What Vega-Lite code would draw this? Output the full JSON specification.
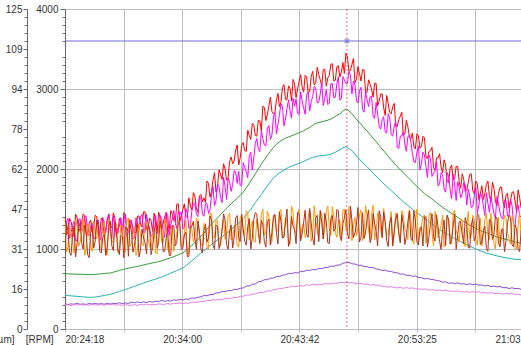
{
  "$schema": "https://vega.github.io/schema/vega-lite/v6.json",
  "width": 469,
  "height": 320,
  "autosize": "none",
  "padding": {"left": 65, "top": 9, "right": 0, "bottom": 16},
  "background": "white",
  "config": {
    "view": {"stroke": null},
    "font": "Liberation Sans",
    "axis": {"labelFont": "Liberation Sans", "labelFontSize": 10, "labelColor": "#333333", "titleFont": "Liberation Sans", "titleFontSize": 10, "titleFontWeight": "normal", "titleColor": "#333333", "domainColor": "#666666", "tickColor": "#666666"}
  },
  "layer": [
    {
      "data": {"values": [
{"t":0,"r":1420,"m":1140,"o":1330,"b":970,"g":690,"c":420,"p":316,"k":295},
{"t":15,"r":1211,"m":1381,"o":1030,"b":1220,"g":689,"c":417,"p":306,"k":303},
{"t":30,"r":1343,"m":1203,"o":1200,"b":920,"g":688,"c":414,"p":314,"k":293},
{"t":45,"r":1154,"m":1344,"o":950,"b":1290,"g":686,"c":411,"p":310,"k":307},
{"t":60,"r":1395,"m":1105,"o":1290,"b":1070,"g":685,"c":408,"p":320,"k":299},
{"t":75,"r":1257,"m":1377,"o":1090,"b":1330,"g":684,"c":405,"p":308,"k":310},
{"t":90,"r":1438,"m":1238,"o":1370,"b":1000,"g":683,"c":402,"p":314,"k":298},
{"t":105,"r":1189,"m":1409,"o":1000,"b":1200,"g":682,"c":399,"p":306,"k":303},
{"t":120,"r":1320,"m":1170,"o":1240,"b":890,"g":680,"c":396,"p":319,"k":297},
{"t":135,"r":1212,"m":1322,"o":970,"b":1260,"g":681,"c":396,"p":312,"k":308},
{"t":150,"r":1423,"m":1133,"o":1180,"b":1100,"g":683,"c":400,"p":320,"k":301},
{"t":165,"r":1244,"m":1364,"o":1310,"b":1310,"g":686,"c":405,"p":311,"k":300},
{"t":180,"r":1386,"m":1106,"o":1050,"b":950,"g":690,"c":412,"p":318,"k":308},
{"t":195,"r":1167,"m":1307,"o":1350,"b":1180,"g":694,"c":420,"p":309,"k":297},
{"t":210,"r":1358,"m":1378,"o":930,"b":1030,"g":697,"c":426,"p":321,"k":310},
{"t":225,"r":1280,"m":1200,"o":1220,"b":1350,"g":700,"c":432,"p":312,"k":301},
{"t":240,"r":1451,"m":1411,"o":1110,"b":980,"g":710,"c":444,"p":321,"k":311},
{"t":255,"r":1212,"m":1152,"o":1320,"b":1230,"g":721,"c":457,"p":317,"k":298},
{"t":270,"r":1383,"m":1283,"o":1010,"b":930,"g":732,"c":470,"p":328,"k":303},
{"t":285,"r":1185,"m":1175,"o":1260,"b":1160,"g":743,"c":482,"p":317,"k":295},
{"t":300,"r":1426,"m":1436,"o":960,"b":1280,"g":752,"c":494,"p":326,"k":305},
{"t":315,"r":1267,"m":1217,"o":1390,"b":910,"g":760,"c":507,"p":319,"k":298},
{"t":330,"r":1349,"m":1359,"o":1070,"b":1210,"g":767,"c":520,"p":334,"k":296},
{"t":345,"r":1200,"m":1140,"o":1280,"b":1050,"g":775,"c":533,"p":328,"k":305},
{"t":360,"r":1411,"m":1311,"o":990,"b":1320,"g":782,"c":546,"p":338,"k":295},
{"t":375,"r":1313,"m":1403,"o":1170,"b":990,"g":790,"c":560,"p":330,"k":309},
{"t":390,"r":1464,"m":1204,"o":1040,"b":1140,"g":801,"c":576,"p":339,"k":301},
{"t":405,"r":1245,"m":1435,"o":1330,"b":940,"g":809,"c":588,"p":331,"k":312},
{"t":420,"r":1386,"m":1246,"o":1030,"b":1270,"g":818,"c":600,"p":344,"k":301},
{"t":435,"r":1218,"m":1178,"o":1200,"b":1020,"g":826,"c":612,"p":336,"k":307},
{"t":450,"r":1369,"m":1419,"o":950,"b":1340,"g":834,"c":624,"p":347,"k":302},
{"t":465,"r":1460,"m":1240,"o":1290,"b":1080,"g":842,"c":636,"p":344,"k":315},
{"t":480,"r":1260,"m":1380,"o":1090,"b":1240,"g":852,"c":650,"p":357,"k":309},
{"t":495,"r":1400,"m":1145,"o":1370,"b":970,"g":865,"c":666,"p":347,"k":308},
{"t":510,"r":1220,"m":1420,"o":1000,"b":1220,"g":878,"c":682,"p":355,"k":318},
{"t":525,"r":1480,"m":1295,"o":1240,"b":920,"g":891,"c":698,"p":349,"k":309},
{"t":540,"r":1360,"m":1480,"o":970,"b":1290,"g":905,"c":714,"p":364,"k":323},
{"t":555,"r":1560,"m":1255,"o":1180,"b":1070,"g":920,"c":730,"p":360,"k":316},
{"t":570,"r":1340,"m":1430,"o":1310,"b":1330,"g":935,"c":745,"p":370,"k":327},
{"t":585,"r":1490,"m":1250,"o":1055,"b":1005,"g":950,"c":760,"p":362,"k":316},
{"t":600,"r":1410,"m":1505,"o":1360,"b":1210,"g":980,"c":790,"p":375,"k":325},
{"t":615,"r":1640,"m":1260,"o":948,"b":908,"g":1010,"c":822,"p":371,"k":322},
{"t":630,"r":1490,"m":1480,"o":1245,"b":1285,"g":1045,"c":854,"p":388,"k":337},
{"t":645,"r":1660,"m":1575,"o":1142,"b":1132,"g":1080,"c":886,"p":384,"k":333},
{"t":660,"r":1460,"m":1405,"o":1360,"b":1350,"g":1120,"c":918,"p":398,"k":335},
{"t":675,"r":1680,"m":1640,"o":1060,"b":1000,"g":1160,"c":950,"p":400,"k":347},
{"t":690,"r":1640,"m":1410,"o":1314,"b":1234,"g":1195,"c":980,"p":419,"k":341},
{"t":705,"r":1850,"m":1570,"o":1018,"b":1088,"g":1250,"c":1010,"p":415,"k":358},
{"t":720,"r":1650,"m":1490,"o":1452,"b":1412,"g":1290,"c":1040,"p":430,"k":354},
{"t":735,"r":1860,"m":1780,"o":1136,"b":1046,"g":1330,"c":1070,"p":430,"k":368},
{"t":750,"r":1710,"m":1605,"o":1350,"b":1300,"g":1370,"c":1100,"p":451,"k":361},
{"t":765,"r":1990,"m":1780,"o":1064,"b":1004,"g":1410,"c":1128,"p":453,"k":370},
{"t":780,"r":1870,"m":1580,"o":1248,"b":1238,"g":1450,"c":1155,"p":469,"k":367},
{"t":795,"r":2000,"m":1780,"o":1122,"b":1362,"g":1490,"c":1182,"p":466,"k":383},
{"t":810,"r":1890,"m":1890,"o":1416,"b":996,"g":1530,"c":1210,"p":481,"k":381},
{"t":825,"r":2150,"m":1720,"o":1120,"b":1300,"g":1565,"c":1245,"p":478,"k":384},
{"t":840,"r":2100,"m":1980,"o":1294,"b":1144,"g":1600,"c":1278,"p":496,"k":397},
{"t":855,"r":2300,"m":1820,"o":1048,"b":1418,"g":1635,"c":1311,"p":494,"k":392},
{"t":870,"r":2140,"m":1790,"o":1392,"b":1092,"g":1670,"c":1344,"p":509,"k":410},
{"t":885,"r":2330,"m":2080,"o":1196,"b":1246,"g":1710,"c":1380,"p":513,"k":408},
{"t":900,"r":2220,"m":1965,"o":1478,"b":1048,"g":1765,"c":1425,"p":537,"k":426},
{"t":915,"r":2420,"m":2160,"o":1110,"b":1380,"g":1820,"c":1470,"p":538,"k":422},
{"t":930,"r":2570,"m":1985,"o":1352,"b":1132,"g":1880,"c":1525,"p":558,"k":436},
{"t":945,"r":2420,"m":2320,"o":1085,"b":1455,"g":1940,"c":1580,"p":563,"k":437},
{"t":960,"r":2610,"m":2245,"o":1297,"b":1197,"g":2000,"c":1630,"p":590,"k":456},
{"t":975,"r":2480,"m":2480,"o":1430,"b":1360,"g":2060,"c":1680,"p":596,"k":456},
{"t":990,"r":2770,"m":2300,"o":1172,"b":1092,"g":2115,"c":1735,"p":616,"k":462},
{"t":1005,"r":2680,"m":2510,"o":1474,"b":1344,"g":2170,"c":1790,"p":617,"k":478},
{"t":1020,"r":2900,"m":2370,"o":1057,"b":1047,"g":2220,"c":1840,"p":635,"k":475},
{"t":1035,"r":2690,"m":2650,"o":1349,"b":1419,"g":2270,"c":1890,"p":636,"k":495},
{"t":1050,"r":2860,"m":2440,"o":1241,"b":1201,"g":2310,"c":1920,"p":657,"k":494},
{"t":1065,"r":2780,"m":2680,"o":1454,"b":1464,"g":2340,"c":1950,"p":656,"k":511},
{"t":1080,"r":3020,"m":2775,"o":1146,"b":1136,"g":2365,"c":1975,"p":673,"k":506},
{"t":1095,"r":2870,"m":2625,"o":1398,"b":1338,"g":2385,"c":2000,"p":677,"k":518},
{"t":1110,"r":3040,"m":2865,"o":1101,"b":1031,"g":2400,"c":2020,"p":696,"k":518},
{"t":1125,"r":2850,"m":2635,"o":1533,"b":1403,"g":2415,"c":2035,"p":692,"k":536},
{"t":1140,"r":3060,"m":2785,"o":1215,"b":1245,"g":2430,"c":2050,"p":704,"k":531},
{"t":1155,"r":3000,"m":2695,"o":1428,"b":1458,"g":2445,"c":2065,"p":701,"k":532},
{"t":1170,"r":3180,"m":2965,"o":1140,"b":1100,"g":2460,"c":2080,"p":720,"k":543},
{"t":1185,"r":2960,"m":2765,"o":1322,"b":1332,"g":2478,"c":2095,"p":719,"k":536},
{"t":1200,"r":3150,"m":2925,"o":1194,"b":1184,"g":2500,"c":2115,"p":735,"k":552},
{"t":1215,"r":2970,"m":2725,"o":1486,"b":1506,"g":2520,"c":2130,"p":731,"k":547},
{"t":1230,"r":3220,"m":2905,"o":1188,"b":1138,"g":2545,"c":2145,"p":744,"k":560},
{"t":1245,"r":3080,"m":3015,"o":1360,"b":1390,"g":2570,"c":2155,"p":740,"k":551},
{"t":1260,"r":3180,"m":2835,"o":1112,"b":1092,"g":2580,"c":2162,"p":758,"k":559},
{"t":1275,"r":3040,"m":3075,"o":1454,"b":1324,"g":2590,"c":2168,"p":754,"k":555},
{"t":1290,"r":3250,"m":2885,"o":1256,"b":1446,"g":2600,"c":2172,"p":768,"k":568},
{"t":1305,"r":3140,"m":2805,"o":1538,"b":1078,"g":2610,"c":2176,"p":770,"k":563},
{"t":1320,"r":3310,"m":3065,"o":1170,"b":1380,"g":2625,"c":2185,"p":787,"k":564},
{"t":1335,"r":3100,"m":2890,"o":1412,"b":1222,"g":2645,"c":2200,"p":783,"k":575},
{"t":1350,"r":3280,"m":3065,"o":1144,"b":1494,"g":2670,"c":2220,"p":798,"k":568},
{"t":1365,"r":3150,"m":2860,"o":1356,"b":1166,"g":2690,"c":2240,"p":800,"k":583},
{"t":1380,"r":3330,"m":3155,"o":1488,"b":1318,"g":2725,"c":2265,"p":824,"k":578},
{"t":1395,"r":3450,"m":3070,"o":1230,"b":1490,"g":2750,"c":2280,"p":828,"k":584},
{"t":1410,"r":3220,"m":3220,"o":1527,"b":1127,"g":2730,"c":2255,"p":833,"k":574},
{"t":1425,"r":3310,"m":2940,"o":1104,"b":1354,"g":2690,"c":2230,"p":814,"k":582},
{"t":1440,"r":3080,"m":3050,"o":1392,"b":1202,"g":2645,"c":2185,"p":813,"k":571},
{"t":1455,"r":3280,"m":2825,"o":1279,"b":1519,"g":2600,"c":2145,"p":795,"k":566},
{"t":1470,"r":3100,"m":3020,"o":1486,"b":1146,"g":2560,"c":2100,"p":798,"k":572},
{"t":1485,"r":3240,"m":2710,"o":1173,"b":1133,"g":2515,"c":2065,"p":780,"k":559},
{"t":1500,"r":2960,"m":2870,"o":1420,"b":1380,"g":2475,"c":2030,"p":780,"k":562},
{"t":1515,"r":3060,"m":2900,"o":1118,"b":1078,"g":2430,"c":1990,"p":767,"k":548},
{"t":1530,"r":2900,"m":2665,"o":1545,"b":1445,"g":2385,"c":1950,"p":769,"k":556},
{"t":1545,"r":3070,"m":2830,"o":1222,"b":1222,"g":2340,"c":1910,"p":749,"k":544},
{"t":1560,"r":2850,"m":2530,"o":1429,"b":1479,"g":2295,"c":1875,"p":747,"k":549},
{"t":1575,"r":2940,"m":2617,"o":1136,"b":1146,"g":2250,"c":1835,"p":731,"k":533},
{"t":1590,"r":2670,"m":2464,"o":1314,"b":1344,"g":2205,"c":1800,"p":736,"k":533},
{"t":1605,"r":2820,"m":2691,"o":1181,"b":1031,"g":2160,"c":1765,"p":721,"k":522},
{"t":1620,"r":2690,"m":2428,"o":1468,"b":1398,"g":2115,"c":1730,"p":721,"k":529},
{"t":1635,"r":2820,"m":2535,"o":1165,"b":1235,"g":2070,"c":1695,"p":704,"k":519},
{"t":1650,"r":2530,"m":2272,"o":1332,"b":1442,"g":2030,"c":1660,"p":703,"k":514},
{"t":1665,"r":2660,"m":2410,"o":1080,"b":1080,"g":1990,"c":1625,"p":685,"k":520},
{"t":1680,"r":2420,"m":2466,"o":1418,"b":1308,"g":1955,"c":1590,"p":689,"k":508},
{"t":1695,"r":2610,"m":2222,"o":1216,"b":1156,"g":1915,"c":1560,"p":671,"k":518},
{"t":1710,"r":2410,"m":2418,"o":1495,"b":1475,"g":1880,"c":1530,"p":672,"k":508},
{"t":1725,"r":2450,"m":2194,"o":1123,"b":1103,"g":1840,"c":1495,"p":659,"k":515},
{"t":1740,"r":2250,"m":2080,"o":1361,"b":1351,"g":1800,"c":1465,"p":662,"k":501},
{"t":1755,"r":2420,"m":2285,"o":1089,"b":1049,"g":1765,"c":1440,"p":643,"k":503},
{"t":1770,"r":2280,"m":2070,"o":1298,"b":1278,"g":1730,"c":1410,"p":642,"k":493},
{"t":1785,"r":2390,"m":2172,"o":1426,"b":1396,"g":1695,"c":1385,"p":626,"k":502},
{"t":1800,"r":2130,"m":1894,"o":1164,"b":1024,"g":1665,"c":1355,"p":633,"k":491},
{"t":1815,"r":2230,"m":2126,"o":1462,"b":1322,"g":1640,"c":1325,"p":619,"k":486},
{"t":1830,"r":2020,"m":1948,"o":1041,"b":1161,"g":1610,"c":1300,"p":620,"k":492},
{"t":1845,"r":2140,"m":2090,"o":1329,"b":1429,"g":1580,"c":1275,"p":604,"k":479},
{"t":1860,"r":2190,"m":1810,"o":1217,"b":1097,"g":1550,"c":1240,"p":602,"k":489},
{"t":1875,"r":1950,"m":1930,"o":1425,"b":1245,"g":1520,"c":1220,"p":585,"k":479},
{"t":1890,"r":2050,"m":1710,"o":1113,"b":1043,"g":1495,"c":1198,"p":589,"k":487},
{"t":1905,"r":1830,"m":1910,"o":1362,"b":1372,"g":1470,"c":1176,"p":572,"k":473},
{"t":1920,"r":2050,"m":1630,"o":1060,"b":1120,"g":1445,"c":1154,"p":576,"k":476},
{"t":1935,"r":1880,"m":1800,"o":1489,"b":1439,"g":1420,"c":1132,"p":569,"k":467},
{"t":1950,"r":2030,"m":1840,"o":1167,"b":1177,"g":1395,"c":1112,"p":576,"k":477},
{"t":1965,"r":1760,"m":1640,"o":1376,"b":1336,"g":1370,"c":1092,"p":562,"k":467},
{"t":1980,"r":1870,"m":1830,"o":1084,"b":1064,"g":1345,"c":1073,"p":566,"k":463},
{"t":1995,"r":1740,"m":1550,"o":1263,"b":1313,"g":1320,"c":1055,"p":554,"k":469},
{"t":2010,"r":1930,"m":1660,"o":1131,"b":1011,"g":1300,"c":1036,"p":565,"k":458},
{"t":2025,"r":1730,"m":1530,"o":1420,"b":1380,"g":1280,"c":1018,"p":555,"k":469},
{"t":2040,"r":1850,"m":1770,"o":1118,"b":1158,"g":1260,"c":1000,"p":561,"k":459},
{"t":2055,"r":1620,"m":1540,"o":1287,"b":1417,"g":1240,"c":985,"p":548,"k":467},
{"t":2070,"r":1790,"m":1660,"o":1035,"b":1085,"g":1225,"c":970,"p":551,"k":453},
{"t":2085,"r":1690,"m":1420,"o":1374,"b":1284,"g":1210,"c":955,"p":538,"k":456},
{"t":2100,"r":1850,"m":1575,"o":1172,"b":972,"g":1195,"c":944,"p":545,"k":447},
{"t":2115,"r":1600,"m":1655,"o":1451,"b":1341,"g":1180,"c":934,"p":531,"k":456},
{"t":2130,"r":1760,"m":1445,"o":1079,"b":1179,"g":1165,"c":924,"p":535,"k":446},
{"t":2145,"r":1540,"m":1655,"o":1318,"b":1388,"g":1150,"c":914,"p":526,"k":442},
{"t":2160,"r":1770,"m":1455,"o":1046,"b":1026,"g":1140,"c":906,"p":532,"k":448},
{"t":2175,"r":1600,"m":1375,"o":1255,"b":1255,"g":1130,"c":898,"p":516,"k":436},
{"t":2190,"r":1670,"m":1605,"o":1383,"b":1103,"g":1120,"c":890,"p":518,"k":447},
{"t":2205,"r":1510,"m":1415,"o":1122,"b":1422,"g":1110,"c":883,"p":506,"k":436},
{"t":2220,"r":1710,"m":1545,"o":1420,"b":1050,"g":1100,"c":877,"p":515,"k":444},
{"t":2235,"r":1600,"m":1290,"o":999,"b":1299,"g":1090,"c":872,"p":504,"k":430},
{"t":2250,"r":1740,"m":1550,"o":1287,"b":997,"g":1080,"c":868,"p":508,"k":433},
{"t":2265,"r":1510,"m":1400,"o":1176,"b":1226,"g":1070,"c":865,"p":495,"k":424},
{"t":2280,"r":1640,"m":1560,"o":1384,"b":1344,"g":1060,"c":861,"p":500,"k":433},
{"t":2295,"r":1465,"m":1310,"o":1073,"b":973,"g":1050,"c":858,"p":488,"k":422},
{"t":2310,"r":1610,"m":1455,"o":1321,"b":1271,"g":1040,"c":855,"p":497,"k":418},
{"t":2325,"r":1690,"m":1255,"o":1020,"b":1110,"g":1030,"c":852,"p":485,"k":424},
{"t":7.5,"r":1180,"m":1340,"o":960,"b":1320},
{"t":22.5,"r":1382,"m":1132,"o":1300,"b":960},
{"t":37.5,"r":1243,"m":1293,"o":1090,"b":1180},
{"t":52.5,"r":1435,"m":1105,"o":1360,"b":900},
{"t":67.5,"r":1216,"m":1366,"o":1030,"b":1250},
{"t":82.5,"r":1327,"m":1227,"o":1190,"b":1080},
{"t":97.5,"r":1419,"m":1409,"o":920,"b":1300},
{"t":112.5,"r":1170,"m":1180,"o":1320,"b":930},
{"t":127.5,"r":1361,"m":1281,"o":1060,"b":1210},
{"t":142.5,"r":1282,"m":1132,"o":1350,"b":1010},
{"t":157.5,"r":1404,"m":1334,"o":1130,"b":1360},
{"t":172.5,"r":1165,"m":1165,"o":990,"b":970},
{"t":187.5,"r":1356,"m":1396,"o":1260,"b":1140},
{"t":202.5,"r":1238,"m":1208,"o":940,"b":920},
{"t":217.5,"r":1439,"m":1429,"o":1380,"b":1290},
{"t":232.5,"r":1270,"m":1130,"o":1080,"b":1040},
{"t":247.5,"r":1391,"m":1321,"o":1280,"b":1330},
{"t":262.5,"r":1193,"m":1263,"o":960,"b":990},
{"t":277.5,"r":1324,"m":1394,"o":1300,"b":1170},
{"t":292.5,"r":1455,"m":1365,"o":1090,"b":890},
{"t":307.5,"r":1227,"m":1157,"o":1360,"b":1260},
{"t":322.5,"r":1368,"m":1318,"o":1030,"b":1320},
{"t":337.5,"r":1259,"m":1129,"o":1190,"b":960},
{"t":352.5,"r":1210,"m":1390,"o":920,"b":1180},
{"t":367.5,"r":1412,"m":1252,"o":1320,"b":900},
{"t":382.5,"r":1273,"m":1433,"o":1060,"b":1250},
{"t":397.5,"r":1464,"m":1204,"o":1350,"b":1080},
{"t":412.5,"r":1245,"m":1305,"o":1130,"b":1300},
{"t":427.5,"r":1357,"m":1157,"o":990,"b":930},
{"t":442.5,"r":1448,"m":1358,"o":1260,"b":1210},
{"t":457.5,"r":1199,"m":1189,"o":940,"b":1010},
{"t":472.5,"r":1395,"m":1420,"o":1380,"b":1360},
{"t":487.5,"r":1325,"m":1232,"o":1080,"b":970},
{"t":502.5,"r":1455,"m":1457,"o":1280,"b":1140},
{"t":517.5,"r":1230,"m":1167,"o":960,"b":920},
{"t":532.5,"r":1440,"m":1372,"o":1300,"b":1290},
{"t":547.5,"r":1340,"m":1327,"o":1090,"b":1040},
{"t":562.5,"r":1565,"m":1477,"o":1360,"b":1330},
{"t":577.5,"r":1420,"m":1465,"o":1030,"b":990},
{"t":592.5,"r":1565,"m":1272,"o":1197,"b":1177},
{"t":607.5,"r":1390,"m":1452,"o":934,"b":904},
{"t":622.5,"r":1545,"m":1280,"o":1341,"b":1281},
{"t":637.5,"r":1705,"m":1562,"o":1088,"b":1348},
{"t":652.5,"r":1500,"m":1440,"o":1386,"b":996},
{"t":667.5,"r":1665,"m":1637,"o":1175,"b":1225},
{"t":682.5,"r":1590,"m":1435,"o":1042,"b":952},
{"t":697.5,"r":1580,"m":1565,"o":1316,"b":1306},
{"t":712.5,"r":1820,"m":1445,"o":1000,"b":1140},
{"t":727.5,"r":1720,"m":1675,"o":1444,"b":1364},
{"t":742.5,"r":1955,"m":1542,"o":1148,"b":998},
{"t":757.5,"r":1780,"m":1812,"o":1352,"b":1282},
{"t":772.5,"r":1930,"m":1650,"o":1036,"b":1086},
{"t":787.5,"r":2065,"m":1895,"o":1380,"b":1440},
{"t":802.5,"r":1860,"m":1620,"o":1174,"b":1054},
{"t":817.5,"r":2095,"m":1835,"o":1448,"b":1228},
{"t":832.5,"r":2065,"m":1805,"o":1122,"b":1012},
{"t":847.5,"r":2235,"m":1965,"o":1286,"b":1386},
{"t":862.5,"r":2050,"m":1970,"o":1020,"b":1140},
{"t":877.5,"r":2295,"m":1805,"o":1424,"b":1434},
{"t":892.5,"r":2230,"m":2022,"o":1167,"b":1097},
{"t":907.5,"r":2485,"m":1892,"o":1459,"b":1279},
{"t":922.5,"r":2370,"m":2212,"o":1241,"b":1001},
{"t":937.5,"r":2550,"m":2137,"o":1103,"b":1373},
{"t":952.5,"r":2410,"m":2382,"o":1376,"b":1436},
{"t":967.5,"r":2600,"m":2217,"o":1058,"b":1078},
{"t":982.5,"r":2785,"m":2380,"o":1501,"b":1301},
{"t":997.5,"r":2605,"m":2290,"o":1203,"b":1023},
{"t":1012.5,"r":2790,"m":2545,"o":1405,"b":1375},
{"t":1027.5,"r":2720,"m":2425,"o":1088,"b":1208},
{"t":1042.5,"r":2710,"m":2705,"o":1430,"b":1430},
{"t":1057.5,"r":2945,"m":2560,"o":1222,"b":1062},
{"t":1072.5,"r":2835,"m":2812,"o":1495,"b":1345},
{"t":1087.5,"r":3055,"m":2540,"o":1167,"b":1147},
{"t":1102.5,"r":2865,"m":2760,"o":1330,"b":1500},
{"t":1117.5,"r":3005,"m":2730,"o":1062,"b":1112},
{"t":1132.5,"r":3120,"m":2885,"o":1464,"b":1284},
{"t":1147.5,"r":2890,"m":2875,"o":1206,"b":1066},
{"t":1162.5,"r":3095,"m":2680,"o":1499,"b":1439},
{"t":1177.5,"r":3030,"m":2855,"o":1281,"b":1191},
{"t":1192.5,"r":3170,"m":2685,"o":1143,"b":1483},
{"t":1207.5,"r":2950,"m":2965,"o":1415,"b":1145},
{"t":1222.5,"r":3155,"m":2840,"o":1097,"b":1327},
{"t":1237.5,"r":3050,"m":3035,"o":1539,"b":1049},
{"t":1252.5,"r":3270,"m":2825,"o":1241,"b":1421},
{"t":1267.5,"r":3115,"m":2940,"o":1443,"b":1483},
{"t":1282.5,"r":3240,"m":2795,"o":1125,"b":1125},
{"t":1297.5,"r":3035,"m":2990,"o":1467,"b":1347},
{"t":1312.5,"r":3170,"m":2825,"o":1259,"b":1069},
{"t":1327.5,"r":3315,"m":3068,"o":1531,"b":1421},
{"t":1342.5,"r":3110,"m":2898,"o":1203,"b":1253},
{"t":1357.5,"r":3290,"m":3152,"o":1365,"b":1475},
{"t":1372.5,"r":3215,"m":2882,"o":1097,"b":1107},
{"t":1387.5,"r":3195,"m":3112,"o":1499,"b":1389},
{"t":1402.5,"r":3400,"m":3070,"o":1238,"b":1188},
{"t":1417.5,"r":3230,"m":3170,"o":1525,"b":1535},
{"t":1432.5,"r":3380,"m":3100,"o":1303,"b":1143},
{"t":1447.5,"r":3120,"m":2852,"o":1160,"b":1310},
{"t":1462.5,"r":3190,"m":2977,"o":1427,"b":1087},
{"t":1477.5,"r":3240,"m":2745,"o":1104,"b":1454},
{"t":1492.5,"r":2955,"m":2960,"o":1541,"b":1201},
{"t":1507.5,"r":3115,"m":2780,"o":1239,"b":1489},
{"t":1522.5,"r":2995,"m":2912,"o":1436,"b":1146},
{"t":1537.5,"r":3070,"m":2632,"o":1113,"b":1323},
{"t":1552.5,"r":2790,"m":2690,"o":1450,"b":1040},
{"t":1567.5,"r":2935,"m":2498,"o":1237,"b":1407},
{"t":1582.5,"r":2765,"m":2655,"o":1505,"b":1465},
{"t":1597.5,"r":2920,"m":2448,"o":1172,"b":1102},
{"t":1612.5,"r":2705,"m":2640,"o":1329,"b":1319},
{"t":1627.5,"r":2780,"m":2412,"o":1056,"b":1036},
{"t":1642.5,"r":2535,"m":2594,"o":1453,"b":1383},
{"t":1657.5,"r":2620,"m":2256,"o":1191,"b":1211},
{"t":1672.5,"r":2710,"m":2413,"o":1479,"b":1429},
{"t":1687.5,"r":2435,"m":2314,"o":1257,"b":1057},
{"t":1702.5,"r":2530,"m":2405,"o":1115,"b":1335},
{"t":1717.5,"r":2380,"m":2341,"o":1384,"b":1134},
{"t":1732.5,"r":2285,"m":2092,"o":1062,"b":1482},
{"t":1747.5,"r":2440,"m":2212,"o":1500,"b":1090},
{"t":1762.5,"r":2260,"m":1987,"o":1198,"b":1258},
{"t":1777.5,"r":2410,"m":2211,"o":1397,"b":1037},
{"t":1792.5,"r":2150,"m":2033,"o":1075,"b":1405},
{"t":1807.5,"r":2220,"m":2175,"o":1413,"b":1153},
{"t":1822.5,"r":2270,"m":1907,"o":1201,"b":1441},
{"t":1837.5,"r":1985,"m":1974,"o":1470,"b":1100},
{"t":1852.5,"r":2140,"m":1790,"o":1138,"b":1278},
{"t":1867.5,"r":2025,"m":1955,"o":1296,"b":996},
{"t":1882.5,"r":2115,"m":1755,"o":1024,"b":1364},
{"t":1897.5,"r":1845,"m":1955,"o":1422,"b":1422},
{"t":1912.5,"r":2010,"m":1740,"o":1161,"b":1061},
{"t":1927.5,"r":1865,"m":1935,"o":1449,"b":1279},
{"t":1942.5,"r":2035,"m":1605,"o":1228,"b":998},
{"t":1957.5,"r":1840,"m":1770,"o":1086,"b":1346},
{"t":1972.5,"r":1940,"m":1690,"o":1355,"b":1175},
{"t":1987.5,"r":1720,"m":1800,"o":1033,"b":1393},
{"t":2002.5,"r":1830,"m":1750,"o":1472,"b":1022},
{"t":2017.5,"r":1940,"m":1520,"o":1170,"b":1300},
{"t":2032.5,"r":1690,"m":1660,"o":1369,"b":1099},
{"t":2047.5,"r":1815,"m":1455,"o":1047,"b":1447},
{"t":2062.5,"r":1690,"m":1700,"o":1386,"b":1056},
{"t":2077.5,"r":1620,"m":1540,"o":1174,"b":1224},
{"t":2092.5,"r":1805,"m":1702,"o":1443,"b":1003},
{"t":2107.5,"r":1655,"m":1460,"o":1111,"b":1371},
{"t":2122.5,"r":1835,"m":1550,"o":1270,"b":1120},
{"t":2137.5,"r":1600,"m":1385,"o":998,"b":1408},
{"t":2152.5,"r":1695,"m":1570,"o":1397,"b":1067},
{"t":2167.5,"r":1775,"m":1390,"o":1135,"b":1245},
{"t":2182.5,"r":1515,"m":1610,"o":1424,"b":964},
{"t":2197.5,"r":1695,"m":1410,"o":1202,"b":1332},
{"t":2212.5,"r":1605,"m":1620,"o":1061,"b":1391},
{"t":2227.5,"r":1715,"m":1308,"o":1329,"b":1029},
{"t":2242.5,"r":1465,"m":1485,"o":1008,"b":1248},
{"t":2257.5,"r":1645,"m":1415,"o":1446,"b":966},
{"t":2272.5,"r":1515,"m":1535,"o":1145,"b":1315},
{"t":2287.5,"r":1708,"m":1495,"o":1343,"b":1143},
{"t":2302.5,"r":1532,"m":1278,"o":1022,"b":1362},
{"t":2317.5,"r":1645,"m":1430,"o":1360,"b":990}
      ]},
      "layer": [
        {
          "transform": [{"fold": ["g", "c", "p", "k"], "as": ["s", "v"]}, {"filter": "isValid(datum.v)"}],
          "mark": {"type": "line", "strokeWidth": 1, "clip": true, "invalid": "filter"},
          "encoding": {
            "x": {"field": "t", "type": "quantitative", "scale": {"domain": [0, 2329], "nice": false, "zero": false},
              "axis": {"values": [0, 291, 582, 873, 1164, 1455.5, 1747, 2038, 2329], "grid": true, "gridColor": "#bcbcc6", "gridWidth": 1, "domain": false, "tickSize": 3, "tickColor": "#bcbcc6", "labelPadding": 2, "labelFlush": true, "labelOverlap": false, "title": null,
                "labelExpr": "(datum.value % 582) < 5 ? utcFormat(utc(2000, 0, 1, 20, 24, 18 + datum.value), '%H:%M:%S') : ''"}},
            "y": {"field": "v", "type": "quantitative", "scale": {"domain": [0, 4000], "nice": false, "zero": true},
              "axis": {"orient": "left", "values": [0, 500, 1000, 1500, 2000, 2500, 3000, 3500, 4000], "format": "d", "grid": true, "gridColor": "#bcbcc6", "gridWidth": 1, "tickSize": 5, "labelPadding": 2, "domain": true, "title": "[RPM]", "titleAngle": 0, "titleAlign": "right", "titleBaseline": "middle", "titleX": -12, "titleY": 330}},
            "color": {"field": "s", "type": "nominal", "legend": null,
              "scale": {"domain": ["g", "c", "p", "k", "r", "m", "o", "b"], "range": ["#339933", "#22b2aa", "#8a4ad0", "#e47ee4", "#ff0000", "#ff00ff", "#ff9900", "#b3321e"]}}
          }
        },
        {
          "transform": [{"fold": ["r", "m", "o", "b"], "as": ["s", "v"]}, {"filter": "isValid(datum.v)"}],
          "mark": {"type": "line", "strokeWidth": 1, "clip": true, "invalid": "filter"},
          "encoding": {
            "x": {"field": "t", "type": "quantitative", "scale": {"domain": [0, 2329], "nice": false, "zero": false}},
            "y": {"field": "v", "type": "quantitative", "scale": {"domain": [0, 4000], "nice": false, "zero": true}},
            "color": {"field": "s", "type": "nominal", "legend": null,
              "scale": {"domain": ["g", "c", "p", "k", "r", "m", "o", "b"], "range": ["#339933", "#22b2aa", "#8a4ad0", "#e47ee4", "#ff0000", "#ff00ff", "#ff9900", "#b3321e"]}}
          }
        },
        {
          "data": {"values": [{"v": 3600}]},
          "mark": {"type": "rule", "color": "#6c6cd4", "strokeWidth": 1},
          "encoding": {"y": {"field": "v", "type": "quantitative", "scale": {"domain": [0, 4000], "nice": false}}}
        },
        {
          "data": {"values": [{"t": 1400}]},
          "mark": {"type": "rule", "color": "#e05068", "strokeWidth": 1, "strokeDash": [2, 2], "opacity": 0.85},
          "encoding": {"x": {"field": "t", "type": "quantitative", "scale": {"domain": [0, 2329], "nice": false, "zero": false}}}
        },
        {
          "data": {"values": [{"t": 1400, "v": 3600}]},
          "mark": {"type": "point", "shape": "cross", "angle": 45, "size": 30, "filled": true, "color": "#7a7ad8"},
          "encoding": {
            "x": {"field": "t", "type": "quantitative", "scale": {"domain": [0, 2329], "nice": false, "zero": false}},
            "y": {"field": "v", "type": "quantitative", "scale": {"domain": [0, 4000], "nice": false}}
          }
        }
      ]
    },
    {
      "data": {"values": [{"w": 0}]},
      "mark": {"type": "point", "opacity": 0},
      "encoding": {"y": {"field": "w", "type": "quantitative", "scale": {"domain": [0, 4000], "nice": false},
        "axis": {"orient": "left", "values": [100, 200, 300, 400, 600, 700, 800, 900, 1100, 1200, 1300, 1400, 1600, 1700, 1800, 1900, 2100, 2200, 2300, 2400, 2600, 2700, 2800, 2900, 3100, 3200, 3300, 3400, 3600, 3700, 3800, 3900], "labels": false, "tickSize": 3, "domain": false, "grid": false, "title": null}}}
    },
    {
      "data": {"values": [{"u": 0}]},
      "mark": {"type": "point", "opacity": 0},
      "encoding": {"y": {"field": "u", "type": "quantitative", "scale": {"domain": [0, 125], "nice": false},
        "axis": {"orient": "left", "offset": 38, "values": [0, 15.625, 31.25, 46.875, 62.5, 78.125, 93.75, 109.375, 125], "labelExpr": "datum.value == 62.5 ? '62' : format(datum.value, '.0f')", "tickSize": 4, "labelPadding": 1, "domain": true, "grid": false, "title": "[µm]", "titleAngle": 0, "titleAlign": "right", "titleBaseline": "middle", "titleX": -13, "titleY": 330}}}
    },
    {
      "data": {"values": [{"q": 0}]},
      "mark": {"type": "point", "opacity": 0},
      "encoding": {"y": {"field": "q", "type": "quantitative", "scale": {"domain": [0, 125], "nice": false},
        "axis": {"orient": "left", "offset": 38, "values": [3.125, 6.25, 9.375, 12.5, 18.75, 21.875, 25, 28.125, 34.375, 37.5, 40.625, 43.75, 50, 53.125, 56.25, 59.375, 65.625, 68.75, 71.875, 75, 81.25, 84.375, 87.5, 90.625, 96.875, 100, 103.125, 106.25, 112.5, 115.625, 118.75, 121.875], "labels": false, "tickSize": 3, "domain": false, "grid": false, "title": null}}}
    }
  ],
  "resolve": {"scale": {"y": "independent"}, "axis": {"y": "independent"}}
}
